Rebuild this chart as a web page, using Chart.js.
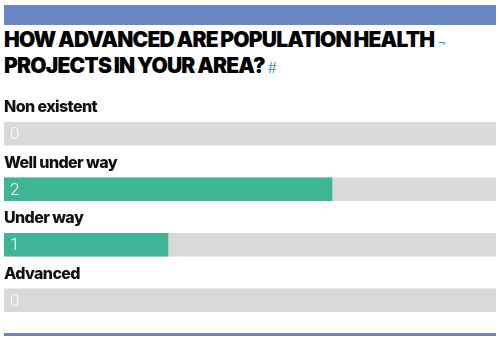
<!DOCTYPE html>
<html>
<head>
<meta charset="utf-8">
<script src="https://cdn.jsdelivr.net/npm/chart.js@4/dist/chart.umd.min.js"></script>
<style>
  html,body{margin:0;padding:0;background:#fff;}
  #wrap{position:relative;width:500px;height:341px;overflow:hidden;}
  #topbar{position:absolute;left:4px;top:5px;width:492px;height:20px;background:#6b88c4;}
  #bottomline{position:absolute;left:4px;top:333px;width:492px;height:3px;background:#6b88c4;}
  #title{position:absolute;left:4px;top:29px;font-family:Inter,sans-serif;font-weight:900;font-size:21px;line-height:22px;color:#000;letter-spacing:-0.8px;white-space:nowrap;}
  #title .m{color:#3d9be9;font-weight:400;font-size:9px;letter-spacing:0;}
  #title .e{color:#3d9be9;font-weight:400;font-size:14px;letter-spacing:0;margin-left:3px;}
  canvas{position:absolute;left:0;top:0;}
</style>
</head>
<body>
<div id="wrap">
  <div id="topbar"></div>
  <div id="title">HOW<span class="m">·</span>ADVANCED<span class="m">·</span>ARE<span class="m">·</span>POPULATION<span class="m">·</span>HEALTH<span class="e">¬</span><br>PROJECTS<span class="m">·</span>IN<span class="m">·</span>YOUR<span class="m">·</span>AREA?<span class="e">#</span></div>
  <canvas id="chart" width="500" height="341"></canvas>
  <div id="bottomline"></div>
</div>
<script>
const categories = ["Non existent", "Well under way", "Under way", "Advanced"];
const responses = [0, 2, 1, 0];
const scaleMax = 3;
const backdrop = categories.map(()=>scaleMax);

// labels above each bar + value inside the bar
const rowLabels = {
  id:'rowLabels',
  afterDatasetsDraw(chart){
    const ctx = chart.ctx;
    const meta = chart.getDatasetMeta(0);
    const left = chart.chartArea.left;
    ctx.save();
    meta.data.forEach((bar,i)=>{
      const top = bar.y - bar.height/2;
      ctx.fillStyle = '#111';
      ctx.font = '800 16px Inter, sans-serif';
      ctx.letterSpacing = '-0.6px';
      ctx.textBaseline = 'alphabetic';
      ctx.textAlign = 'left';
      ctx.fillText(categories[i], left, top - 10);
      ctx.fillStyle = '#fff';
      ctx.font = '300 17px Roboto, sans-serif';
      ctx.letterSpacing = '0px';
      ctx.textBaseline = 'middle';
      ctx.fillText(String(responses[i]), left + 6, bar.y + 1);
    });
    ctx.restore();
  }
};

new Chart(document.getElementById('chart'), {
  type:'bar',
  data:{
    labels: categories,
    datasets:[
      {data: responses, backgroundColor: responses.map(v=>v>0?'#3fb595':'rgba(0,0,0,0)'), barThickness:23, grouped:false},
      {data: backdrop, backgroundColor:'#d9d9d9', barThickness:23, grouped:false}
    ]
  },
  options:{
    indexAxis:'y',
    responsive:false,
    animation:false,
    layout:{padding:{top:106, bottom:13, left:4, right:4}},
    plugins:{legend:{display:false}, tooltip:{enabled:false}},
    scales:{
      x:{display:false, min:0, max:scaleMax},
      y:{display:false}
    }
  },
  plugins:[rowLabels]
});
</script>
</body>
</html>
